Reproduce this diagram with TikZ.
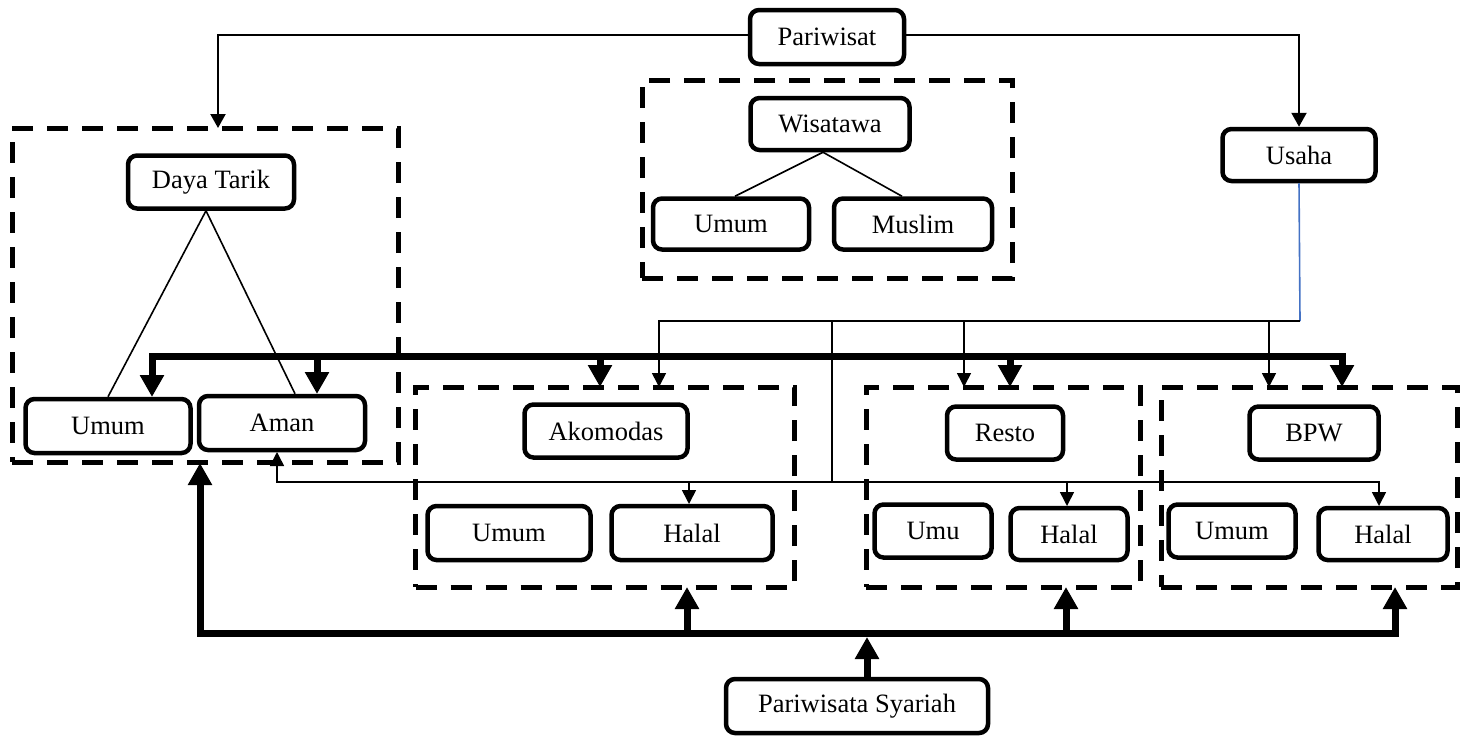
\documentclass[tikz,border=0pt]{standalone}
\usepackage{fontspec}
\setmainfont{Liberation Serif}
\usetikzlibrary{arrows.meta,calc}
\definecolor{usblue}{RGB}{68,114,196}
\tikzset{
  box/.style={draw, line width=4.5pt, rounded corners=9pt, align=center, inner sep=0pt,
    font=\fontsize{26.5}{30}\selectfont},
  dbox/.style={draw, line width=5pt, dash pattern=on 21pt off 14pt, inner sep=0pt},
  thinline/.style={line width=1.6pt},
  thinarr/.style={line width=1.6pt, -{Triangle[length=14pt,width=14pt]}},
  toparr/.style={line width=2.2pt, -{Triangle[length=14pt,width=15pt]}},
  tkarr/.style={line width=7pt, -{Triangle[length=22pt,width=23pt]}},
}
\begin{document}
\begin{tikzpicture}[x=1pt,y=-1pt]
\useasboundingbox (0,0) rectangle (1461,739);
% dashed group boxes
\node[dbox, minimum width=386pt, minimum height=334pt] (dtbox) at (205,295) {};
\node[dbox, minimum width=370pt, minimum height=198pt] (wisbox) at (827,179) {};
\node[dbox, minimum width=379pt, minimum height=200pt] (akobox) at (605,487) {};
\node[dbox, minimum width=274pt, minimum height=200pt] (resbox) at (1003,487) {};
\node[dbox, minimum width=296pt, minimum height=200pt] (bpwbox) at (1309,487) {};
% boxes
\node[box, minimum width=154pt, minimum height=54pt] (pariwisat) at (827,37) {Pariwisat};
\node[box, minimum width=166pt, minimum height=53pt] (dayatarik) at (211,182) {Daya Tarik};
\node[box, minimum width=159pt, minimum height=52pt] (wisatawa) at (830,124) {Wisatawa};
\node[box, minimum width=156pt, minimum height=51pt] (wumum) at (731,224) {Umum};
\node[box, minimum width=158pt, minimum height=51pt] (wmuslim) at (913,224) {Muslim};
\node[box, minimum width=153pt, minimum height=52pt] (usaha) at (1299,155) {Usaha};
\node[box, minimum width=165pt, minimum height=54pt] (dumum) at (108,426) {Umum};
\node[box, minimum width=166pt, minimum height=54pt] (daman) at (282,423) {Aman};
\node[box, minimum width=163pt, minimum height=53pt] (akomodas) at (606,431) {Akomodas};
\node[box, minimum width=116pt, minimum height=53pt] (resto) at (1005,433) {Resto};
\node[box, minimum width=129pt, minimum height=53pt] (bpw) at (1314,433) {BPW};
\node[box, minimum width=163pt, minimum height=54pt] (aumum) at (509,533) {Umum};
\node[box, minimum width=161pt, minimum height=54pt] (ahalal) at (692,533) {Halal};
\node[box, minimum width=117pt, minimum height=53pt] (rumu) at (933,531) {Umu};
\node[box, minimum width=117pt, minimum height=52pt] (rhalal) at (1069,534) {Halal};
\node[box, minimum width=127pt, minimum height=53pt] (bumum) at (1232,531) {Umum};
\node[box, minimum width=129pt, minimum height=52pt] (bhalal) at (1383,534) {Halal};
\node[box, minimum width=262pt, minimum height=54pt] (syariah) at (857,706) {Pariwisata Syariah};
% coordinates
\coordinate (dtIn) at (218,128);
\coordinate (usJ) at (1300,321);
\coordinate (akIn) at (659,387);
\coordinate (reIn) at (964,387);
\coordinate (bpIn) at (1269,387);
\coordinate (vJ) at (832,321);
\coordinate (hJ) at (832,482);
\coordinate (amUp) at (277,452);
\coordinate (ahIn) at (689,504);
\coordinate (rhIn) at (1067,506);
\coordinate (bhIn) at (1379,506);
\coordinate (tb) at (700,356);
\coordinate (tUm) at (152,397);
\coordinate (tAm) at (317,394);
\coordinate (tAk) at (600,387);
\coordinate (tRe) at (1010,387);
\coordinate (tBp) at (1342,387);
\coordinate (bb) at (867,633);
\coordinate (bDt) at (200,463);
\coordinate (bAk) at (687,587);
\coordinate (bRe) at (1066,587);
\coordinate (bBp) at (1395,587);
\coordinate (bTip) at (867,637);
% top connectors
\draw[toparr] ([yshift=2pt]pariwisat.west) -| (dtIn);
\draw[toparr] ([yshift=2pt]pariwisat.east) -| (usaha.north);
% tree lines
\draw[thinline] ([xshift=-5pt]dayatarik.south) -- (dumum.north);
\draw[thinline] ([xshift=-5pt]dayatarik.south) -- ([xshift=13pt]daman.north);
\draw[thinline] ([xshift=-7pt]wisatawa.south) -- ([xshift=4pt]wumum.north);
\draw[thinline] ([xshift=-7pt]wisatawa.south) -- ([xshift=-11pt]wmuslim.north);
% usaha thin bus
\draw[line width=1.6pt, usblue] (usaha.south) -- (usJ);
\draw[thinarr] (usJ) -| (akIn);
\draw[thinarr] (reIn |- usJ) -- (reIn);
\draw[thinarr] (bpIn |- usJ) -- (bpIn);
\draw[thinline] (vJ) -- (hJ);
\draw[thinarr] (hJ) -| (amUp);
\draw[thinarr] (hJ) -| (bhIn);
\draw[thinarr] (ahIn |- hJ) -- (ahIn);
\draw[thinarr] (rhIn |- hJ) -- (rhIn);
% thick top bus
\draw[tkarr] (tb) -| (tUm);
\draw[tkarr] (tb) -| (tBp);
\draw[tkarr] (tAm |- tb) -- (tAm);
\draw[tkarr] (tAk |- tb) -- (tAk);
\draw[tkarr] (tRe |- tb) -- (tRe);
% thick bottom bus
\draw[tkarr] (bb) -| (bDt);
\draw[tkarr] (bb) -| (bBp);
\draw[tkarr] (bAk |- bb) -- (bAk);
\draw[tkarr] (bRe |- bb) -- (bRe);
\draw[tkarr] ([xshift=10pt]syariah.north) -- (bTip);
\end{tikzpicture}
\end{document}
